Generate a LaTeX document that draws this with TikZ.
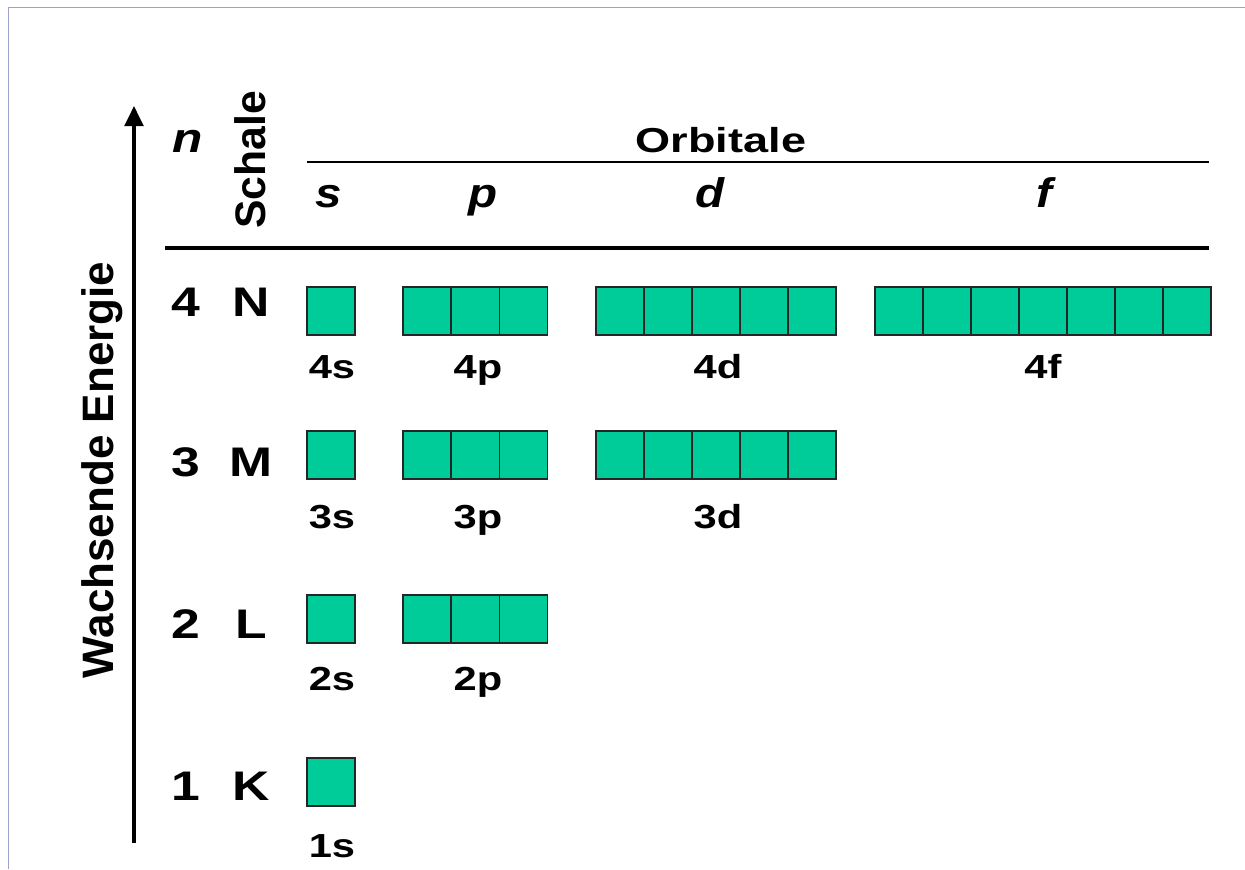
\documentclass[tikz,border=0pt]{standalone}
\usepackage{fontspec}
\setmainfont{Liberation Sans}
\usetikzlibrary{arrows.meta}
\definecolor{orb}{RGB}{0,204,153}
\definecolor{framecol}{RGB}{160,160,208}
\newcommand{\hs}[2][1.3]{\scalebox{#1}[1]{#2}}
\begin{document}
\begin{tikzpicture}[x=0.75pt,y=-0.75pt,
  every node/.style={inner sep=0pt, outer sep=0pt},
  orbbox/.style={draw=black!85, fill=orb, line width=0.9pt, minimum size=36pt, anchor=north west},
  rowlab/.style={anchor=base, font=\bfseries\fontsize{31}{31}\selectfont},
  orblab/.style={anchor=base, font=\bfseries\fontsize{25}{25}\selectfont},
  headlab/.style={anchor=base, font=\bfseries\itshape\fontsize{31}{31}\selectfont},
  rotlab/.style={anchor=base, rotate=90, font=\bfseries\fontsize{32}{32}\selectfont}]
\useasboundingbox (0,0) rectangle (1245,869);
\fill[white] (0,0) rectangle (1245,869);
% frame
\coordinate (fbl) at (8.5,869);
\coordinate (ftl) at (8.5,7.5);
\coordinate (ftr) at (1245,7.5);
\draw[framecol, line width=1.4pt] (fbl) -- (ftl) -- (ftr);
% energy arrow
\coordinate (abot) at (134,843);
\coordinate (atop) at (134,106);
\draw[line width=2.3pt, -{Triangle[length=15pt,width=14pt]}] (abot) -- (atop);
\node[rotlab, font=\bfseries\fontsize{33}{33}\selectfont] (energy) at (113,470) {Wachsende Energie};
% header
\node[headlab] (n) at (188,152) {\hs[1.2]{n}};
\node[rotlab] (schale) at (265,160) {Schale};
\node[anchor=base, font=\bfseries\fontsize{26}{26}\selectfont] (orbitale) at (721,152) {\hs{Orbitale}};
\coordinate (ol1) at (307,162);
\coordinate (ol2) at (1209,162);
\draw[line width=1.6pt] (ol1) -- (ol2);
\node[headlab] (hs) at (329,207) {\hs[1.15]{s}};
\node[headlab] (hp) at (483,207) {\hs[1.15]{p}};
\node[headlab] (hd) at (710,207) {\hs[1.15]{d}};
\node[headlab] (hf) at (1044,207) {\hs[1.15]{f}};
\coordinate (tl1) at (165,248);
\coordinate (tl2) at (1209,248);
\draw[line width=2.8pt] (tl1) -- (tl2);
% rows
\foreach \r/\L/\y/\lb/\ob in {4/N/287/316/378, 3/M/431/476/528, 2/L/595/638/690, 1/K/758/800/857}{
  \node[rowlab] (num\r) at (186,\lb) {\hs[1.25]{\r}};
  \node[rowlab] (shell\r) at (251,\lb) {\hs[1.25]{\L}};
  \node[orbbox] (s\r) at (307,\y) {};
  \node[orblab] (ls\r) at (332,\ob) {\hs[1.25]{\r s}};
}
\foreach \r/\y/\ob in {4/287/378, 3/431/528, 2/595/690}{
  \foreach \k in {0,1,2}{
    \node[orbbox] (p\r-\k) at ({403+48.3*\k},\y) {};
  }
  \node[orblab] (lp\r) at (478,\ob) {\hs[1.25]{\r p}};
}
\foreach \r/\y/\ob in {4/287/378, 3/431/528}{
  \foreach \k in {0,...,4}{
    \node[orbbox] (d\r-\k) at ({596+48*\k},\y) {};
  }
  \node[orblab] (ld\r) at (718,\ob) {\hs[1.25]{\r d}};
}
\foreach \k in {0,...,6}{
  \node[orbbox] (f4-\k) at ({875+48*\k},287) {};
}
\node[orblab] (lf4) at (1043,378) {\hs[1.25]{4f}};
\end{tikzpicture}
\end{document}
